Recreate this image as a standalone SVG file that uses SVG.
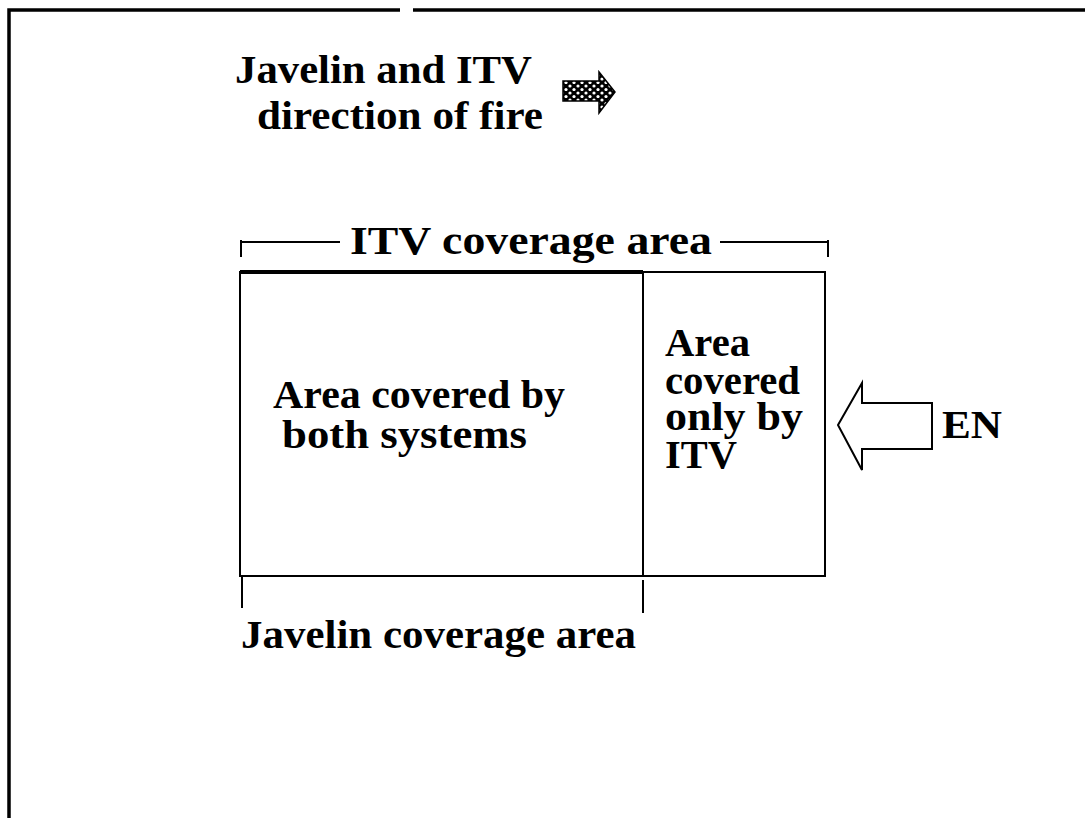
<svg xmlns="http://www.w3.org/2000/svg" width="1085" height="818" viewBox="0 0 1085 818">
<defs>
<style>
.t{font-family:"Liberation Serif","Times New Roman",serif;font-weight:bold;font-size:39px;fill:#000}
.ln{stroke:#000;stroke-width:2;fill:none}
</style>
<pattern id="dots" width="8" height="7" patternUnits="userSpaceOnUse">
<rect width="8" height="7" fill="#000"/>
<circle cx="2" cy="2" r="1.6" fill="#fff"/>
<circle cx="6" cy="5.5" r="1.6" fill="#fff"/>
</pattern>
</defs>
<rect width="1085" height="818" fill="#fff"/>
<g id="frame">
<path d="M9 818 V10 H400 M413 10 H1085" stroke="#000" stroke-width="3.5" fill="none"/>
</g>
<g id="legend">
<text class="t" x="235" y="83" textLength="297" lengthAdjust="spacingAndGlyphs">Javelin and ITV</text>
<text class="t" x="257" y="129" textLength="286" lengthAdjust="spacingAndGlyphs">direction of fire</text>
<path d="M563 81 H599 V72 L615 92 L599 113 V101 H563 Z" fill="url(#dots)" stroke="#000" stroke-width="1.5"/>
</g>
<g id="itv-dim">
<path class="ln" d="M241 240 V257 M241 242 H340 M720 242 H828 M828 240 V257"/>
<text class="t" x="350" y="254" textLength="362" lengthAdjust="spacingAndGlyphs">ITV coverage area</text>
</g>
<g id="area-both">
<rect class="ln" x="240" y="272" width="403" height="304"/>
<path d="M240 272 H643" stroke="#000" stroke-width="4"/>
<text class="t" x="273" y="408" textLength="292" lengthAdjust="spacingAndGlyphs">Area covered by</text>
<text class="t" x="282" y="448" textLength="245" lengthAdjust="spacingAndGlyphs">both systems</text>
</g>
<g id="area-itv">
<rect class="ln" x="643" y="272" width="182" height="304"/>
<text class="t" x="665" y="356" textLength="85" lengthAdjust="spacingAndGlyphs">Area</text>
<text class="t" x="665" y="394" textLength="135" lengthAdjust="spacingAndGlyphs">covered</text>
<text class="t" x="665" y="430" textLength="138" lengthAdjust="spacingAndGlyphs">only by</text>
<text class="t" x="665" y="468" textLength="72" lengthAdjust="spacingAndGlyphs">ITV</text>
</g>
<g id="enemy">
<path class="ln" d="M838 425 L862 383 V403 H932 V449 H862 V470 Z"/>
<text class="t" x="942" y="438" textLength="60" lengthAdjust="spacingAndGlyphs">EN</text>
</g>
<g id="javelin-dim">
<path class="ln" d="M242 576 V608 M643 580 V613"/>
<text class="t" x="241" y="648" textLength="395" lengthAdjust="spacingAndGlyphs">Javelin coverage area</text>
</g>
</svg>
